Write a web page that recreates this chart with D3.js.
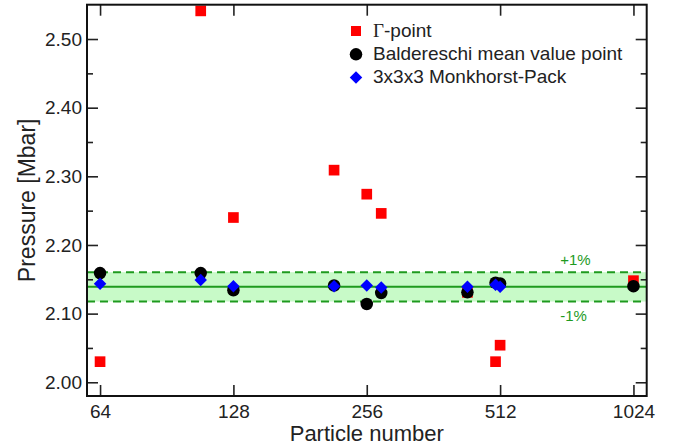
<!DOCTYPE html>
<html>
<head>
<meta charset="utf-8">
<script src="https://cdn.jsdelivr.net/npm/d3@7"></script>
<style>
  body { margin: 0; background: #fff; }
  text { font-family: "Liberation Sans", Arial, Helvetica, sans-serif; fill: #222; }
</style>
</head>
<body>
<div id="chart"></div>
<script>
(function(){
    var width = 673,
        height = 446;
    var margin = {top: 4.7, right: 26.3, bottom: 50, left: 87};
    var w = width - margin.left - margin.right,
        h = height - margin.top - margin.bottom;

    // data
    var gammaN = [64, 108, 128, 216, 256, 276, 432, 500, 512, 1024];
    var gammaP = [2.030, 2.541, 2.240, 2.309, 2.274, 2.246, 2.131, 2.030, 2.054, 2.148];

    var baldN = [64, 108, 128, 216, 256, 276, 432, 500, 512, 1024];
    var baldP = [2.159, 2.159, 2.134, 2.141, 2.114, 2.130, 2.131, 2.145, 2.144, 2.140];

    var mpN = [64, 108, 128, 216, 256, 276, 432, 500, 512];
    var mpP = [2.1435, 2.149, 2.140, 2.140, 2.141, 2.138, 2.139, 2.142, 2.139];

    var xTicks = [64, 128, 256, 512, 1024];
    var yTicks = [2.00, 2.10, 2.20, 2.30, 2.40, 2.50];
    var yMinor = [2.05, 2.15, 2.25, 2.35, 2.45];

    var refP = 2.139;     // reference pressure
    var band = 0.01;      // +-1%

    var legendNames = ["-point", "Baldereschi mean value point", "3x3x3 Monkhorst-Pack"];

    var svg = d3.select("#chart")
        .append("svg")
        .attr("width", width)
        .attr("height", height);

    var g = svg.append("g")
        .attr("transform", "translate(" + margin.left + "," + margin.top + ")");

    var x = d3.scaleLog().base(2).domain([59.8, 1097]).range([0, w]);
    var y = d3.scaleLinear().domain([1.98, 2.55]).range([h, 0]);

    var green = "#1e9a1e";

    // +-1% band
    g.append("rect")
        .attr("x", 0)
        .attr("width", w)
        .attr("y", y(refP * (1 + band)))
        .attr("height", y(refP * (1 - band)) - y(refP * (1 + band)))
        .attr("fill", "#c8fac8");

    g.append("line")
        .attr("x1", 0).attr("x2", w)
        .attr("y1", y(refP)).attr("y2", y(refP))
        .attr("stroke", green).attr("stroke-width", 2);

    [1 + band, 1 - band].forEach(function(f){
        g.append("line")
            .attr("x1", 0).attr("x2", w)
            .attr("y1", y(refP * f)).attr("y2", y(refP * f))
            .attr("stroke", green).attr("stroke-width", 2)
            .attr("stroke-dasharray", "8,5");
    });

    g.append("text")
        .attr("x", x(700)).attr("y", y(refP * (1 + band)) - 7)
        .style("fill", green).style("font-size", "15px")
        .text("+1%");
    g.append("text")
        .attr("x", x(700)).attr("y", y(refP * (1 - band)) + 19)
        .style("fill", green).style("font-size", "15px")
        .text("-1%");

    // points
    var sq = d3.symbol().type(d3.symbolSquare).size(114);
    var circ = d3.symbol().type(d3.symbolCircle).size(123);
    var diam = d3.symbol().type(d3.symbolSquare).size(78);

    g.selectAll(".gamma")
        .data(gammaN)
        .enter().append("path")
        .attr("class", "gamma")
        .attr("d", sq)
        .attr("fill", "#ff0000")
        .attr("transform", function(d, i){ return "translate(" + x(d) + "," + y(gammaP[i]) + ")"; });

    g.selectAll(".bald")
        .data(baldN)
        .enter().append("path")
        .attr("class", "bald")
        .attr("d", circ)
        .attr("fill", "#000")
        .attr("transform", function(d, i){ return "translate(" + x(d) + "," + y(baldP[i]) + ")"; });

    g.selectAll(".mp")
        .data(mpN)
        .enter().append("path")
        .attr("class", "mp")
        .attr("d", diam)
        .attr("fill", "#0000ff")
        .attr("transform", function(d, i){ return "translate(" + x(d) + "," + y(mpP[i]) + ") rotate(45)"; });

    // axes, ticks pointing inward
    var fmt = d3.format(".2f");

    var xAxis = g.append("g")
        .attr("transform", "translate(0," + h + ")")
        .call(d3.axisBottom(x).tickValues(xTicks).tickFormat(d3.format("d")).tickSize(-11).tickPadding(9));
    var xTop = g.append("g")
        .call(d3.axisTop(x).tickValues(xTicks).tickFormat("").tickSize(-11));

    var yAxis = g.append("g")
        .call(d3.axisLeft(y).tickValues(yTicks).tickFormat(fmt).tickSize(-11).tickPadding(5));
    var yAxisMinor = g.append("g")
        .call(d3.axisLeft(y).tickValues(yMinor).tickFormat("").tickSize(-6));
    var yRight = g.append("g")
        .attr("transform", "translate(" + w + ",0)")
        .call(d3.axisRight(y).tickValues(yTicks).tickFormat("").tickSize(-11));
    var yRightMinor = g.append("g")
        .attr("transform", "translate(" + w + ",0)")
        .call(d3.axisRight(y).tickValues(yMinor).tickFormat("").tickSize(-6));

    g.selectAll(".domain").remove();
    g.selectAll(".tick line").attr("stroke", "#222").attr("stroke-width", 1.6);
    g.selectAll(".tick text").style("font-size", "19px").style("fill", "#222");

    g.append("rect")
        .attr("width", w).attr("height", h)
        .attr("fill", "none")
        .attr("stroke", "#111")
        .attr("stroke-width", 2);

    // axis titles
    svg.append("text")
        .attr("x", margin.left + x(Math.sqrt(64 * 1024)))
        .attr("y", 441)
        .attr("text-anchor", "middle")
        .style("font-size", "22px")
        .text("Particle number");

    svg.append("text")
        .attr("transform", "translate(35," + (margin.top + h / 2) + ") rotate(-90)")
        .attr("text-anchor", "middle")
        .style("font-size", "23px")
        .text("Pressure [Mbar]");

    // legend
    var lg = svg.append("g").attr("transform", "translate(356,31)");
    var shapes = [sq, circ, diam];
    var fills = ["#ff0000", "#000", "#0000ff"];
    legendNames.forEach(function(name, i){
        var row = lg.append("g").attr("transform", "translate(0," + (i * 23.3) + ")");
        row.append("path")
            .attr("d", i === 0 ? d3.symbol().type(d3.symbolSquare).size(100)() : shapes[i]())
            .attr("fill", fills[i])
            .attr("transform", i === 2 ? "rotate(45)" : null);
        var t = row.append("text")
            .attr("x", 17)
            .attr("y", 5.5)
            .style("font-size", "19px");
        if (i === 0) {
            t.append("tspan")
                .style("font-family", "'Liberation Serif', 'Times New Roman', serif")
                .text("\u0393");
        }
        t.append("tspan").text(name);
    });
})();
</script>
</body>
</html>
